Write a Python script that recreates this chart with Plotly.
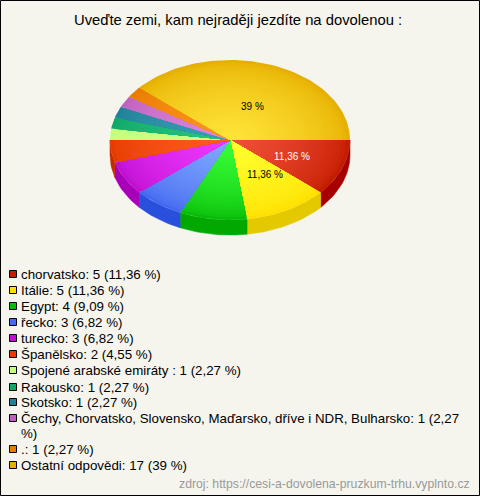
import math
import plotly.graph_objects as go

categories = ["chorvatsko", "Itálie", "Egypt", "řecko", "turecko", "Španělsko",
              "Spojené arabské emiráty ", "Rakousko", "Skotsko",
              "Čechy, Chorvatsko, Slovensko, Maďarsko, dříve i NDR, Bulharsko", ".", "Ostatní odpovědi"]
counts = [5, 5, 4, 3, 3, 2, 1, 1, 1, 1, 1, 17]
percent_labels = ["11,36 %", "11,36 %", "9,09 %", "6,82 %", "6,82 %", "4,55 %",
                  "2,27 %", "2,27 %", "2,27 %", "2,27 %", "2,27 %", "39 %"]
centre_colors = ["#f05038", "#ffff30", "#38ff38", "#80a8ff", "#f038ff", "#ff5c20",
                 "#ccff88", "#28c480", "#38a0b4", "#dc88dc", "#ff9420", "#ffe438"]
edge_colors = ["#c41c00", "#ffe000", "#08bc08", "#4468f0", "#c010d0", "#e63c00",
               "#c4ff7c", "#10a868", "#208098", "#c060c0", "#e87c00", "#e6b000"]
side_colors = ["#a80000", "#e4c800", "#00a800", "#2850dc", "#a800b8", "#c42c00",
               "#a8e060", "#008850", "#086880", "#a040a0", "#c86000", "#c89800"]

BG = "#f5f5ee"
CX, CY, RX, RY, DEPTH = 230, 140, 120, 80, 15
BANDS = 30


def mix(a, b, t):
    pa = [int(a[i:i + 2], 16) for i in (1, 3, 5)]
    pb = [int(b[i:i + 2], 16) for i in (1, 3, 5)]
    return "rgb(%d,%d,%d)" % tuple(round(x + (y - x) * t) for x, y in zip(pa, pb))


def arc(a0, a1, scale=1.0, dy=0.0):
    n = max(2, int(abs(a1 - a0) / 2) + 2)
    pts = [a0 + (a1 - a0) * i / (n - 1) for i in range(n)]
    return ([CX + RX * scale * math.cos(math.radians(p)) for p in pts],
            [CY + dy + RY * scale * math.sin(math.radians(p)) for p in pts])


def poly(xs, ys, color, width=0.5):
    return go.Scatter(x=xs, y=ys, mode="lines", fill="toself", fillcolor=color,
                      line=dict(width=width, color=color), hoverinfo="skip", showlegend=False)


fig = go.Figure()
total = sum(counts)
angles = [0.0]
for c in counts:
    angles.append(angles[-1] + 360 * c / total)

# side walls (front half only)
for i in range(len(counts)):
    a0, a1 = angles[i], min(angles[i + 1], 180)
    if a0 >= 180:
        continue
    tx, ty = arc(a0, a1)
    bx, by = arc(a1, a0, dy=DEPTH)
    fig.add_trace(poly(tx + bx + tx[:1], ty + by + ty[:1], side_colors[i]))

# top faces: shaded from edge to centre
for i in range(len(counts)):
    for b in range(BANDS):
        s = 1 - b / BANDS
        color = mix(edge_colors[i], centre_colors[i], (b / (BANDS - 1)) ** 0.62)
        ax, ay = arc(angles[i], angles[i + 1], scale=s)
        fig.add_trace(poly([CX] + ax + [CX], [CY] + ay + [CY], color, width=0))

# legend
legend_rows = [274, 290, 306, 322, 338, 354, 370, 387, 402, 418, 449, 465]
shapes = [dict(type="rect", xref="x", yref="y", x0=0.5, x1=479.5, y0=0.5, y1=495.5,
               line=dict(color="#000000", width=1), fillcolor="rgba(0,0,0,0)", layer="above")]
ann = []


def text(x, y, t, size, color="#000000", anchor="left"):
    ann.append(dict(x=x, y=y, xref="x", yref="y", text=t, showarrow=False, xanchor=anchor,
                    yanchor="middle", font=dict(family="Liberation Sans, Arial", size=size, color=color)))


for i, (name, cnt, pct) in enumerate(zip(categories, counts, percent_labels)):
    y = legend_rows[i]
    shapes.append(dict(type="rect", xref="x", yref="y", x0=9.5, x1=16.5, y0=y - 3.5, y1=y + 3.5,
                       fillcolor=edge_colors[i], line=dict(color="#000000", width=1)))
    label = f"{name}: {cnt} ({pct})"
    if len(label) > 70:
        text(18.5, y, label[:-3].rstrip(), 13.3)
        text(18.5, y + 15, label[-2:], 13.3)
    else:
        text(18.5, y, label, 13.33)

text(237.5, 20, "Uveďte zemi, kam nejraději jezdíte na dovolenou :", 14.8, anchor="center")
text(252, 106, "39 %", 10, anchor="center")
text(292, 156, percent_labels[0], 10, color="#ffffff", anchor="center")
text(265, 174, percent_labels[1], 10, anchor="center")
text(472, 484, "zdroj: https://cesi-a-dovolena-pruzkum-trhu.vyplnto.cz", 12.25, color="#999999", anchor="right")

fig.update_layout(
    width=480, height=496, margin=dict(l=0, r=0, t=0, b=0),
    paper_bgcolor=BG, plot_bgcolor=BG, showlegend=False, shapes=shapes, annotations=ann,
    xaxis=dict(range=[0, 480], visible=False, fixedrange=True),
    yaxis=dict(range=[496, 0], visible=False, fixedrange=True),
)
fig.write_html("out.html", config={"displayModeBar": False},
               post_script="document.body.style.margin='0';document.documentElement.style.overflow='hidden';")
